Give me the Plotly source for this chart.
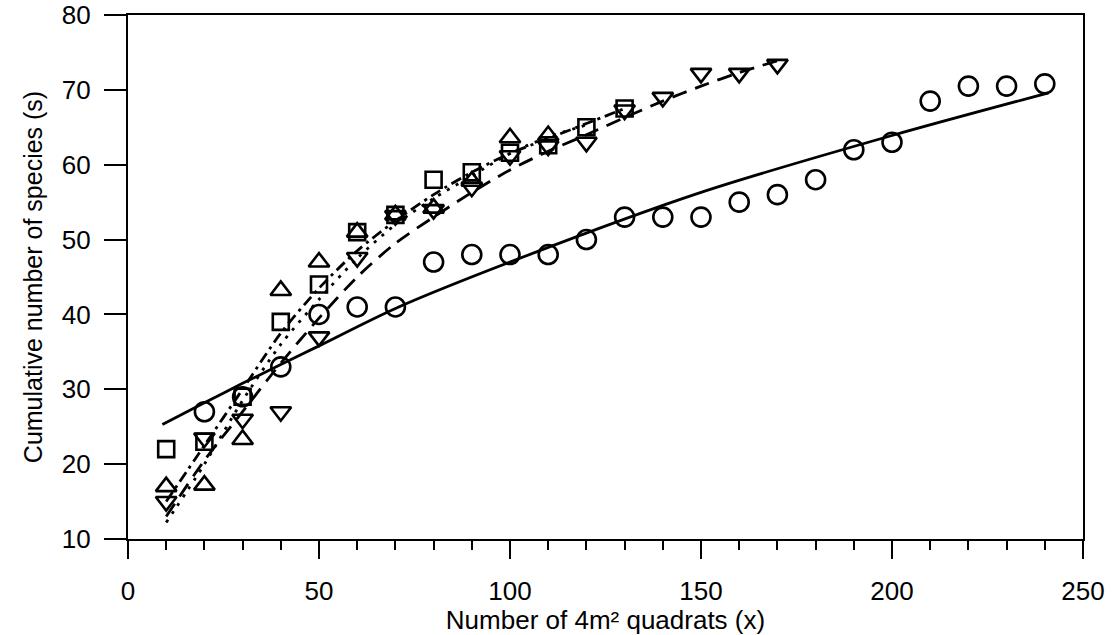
import plotly.graph_objects as go

# ---- observed data ----
circ_x = [20, 30, 40, 50, 60, 70, 80, 90, 100, 110, 120, 130, 140, 150, 160, 170, 180, 190, 200, 210, 220, 230, 240]
circ_y = [27, 29, 33, 40, 41, 41, 47, 48, 48, 48, 50, 53, 53, 53, 55, 56, 58, 62, 63, 68.5, 70.5, 70.5, 70.8]

sq_x = [10, 20, 30, 40, 50, 60, 70, 80, 90, 100, 110, 120, 130]
sq_y = [22, 23, 29, 39, 44, 51, 53.3, 58, 59, 61.6, 62.6, 65, 67.5]

tu_x = [10, 20, 30, 40, 50, 60, 70, 80, 90, 100, 110]
tu_y = [17, 17.2, 23.3, 43.2, 47, 51, 53.3, 54.2, 57.8, 63.6, 63.9]

td_x = [10, 20, 30, 40, 50, 60, 70, 80, 90, 100, 110, 120, 130, 140, 150, 160, 170]
td_y = [15, 23.5, 26, 27, 37, 47.6, 53.2, 54, 57, 61.2, 62.5, 63, 67.3, 69, 72.2, 72.2, 73.4]

# ---- fitted curves ----
fit_c_x = [9, 20, 30, 40, 50, 70, 100, 150, 200, 241]
fit_c_y = [25.3, 28.2, 30.8, 33.3, 35.8, 40.8, 47.0, 56.3, 63.9, 69.6]

fit_s_x = [10, 20, 30, 40, 50, 60, 70, 80, 90, 100, 110, 120, 130]
fit_s_y = [15, 22.5, 30, 37.5, 43.5, 48.5, 52.5, 56, 59, 61.5, 63.5, 65.5, 67.5]

fit_u_x = [10, 20, 30, 40, 50, 60, 70, 80, 90, 100, 110, 120]
fit_u_y = [12.2, 20, 28.5, 36, 42, 47.5, 52, 55.5, 58.5, 61.5, 63.7, 65.3]

fit_d_x = [10, 20, 30, 40, 50, 60, 70, 80, 90, 100, 110, 120, 130, 140, 150, 160, 172]
fit_d_y = [13, 20.5, 27, 33.5, 39.5, 45, 49.5, 53, 56.3, 59.3, 61.8, 64, 66.3, 68.5, 70.5, 72.3, 74.2]

x_ticks = [0, 50, 100, 150, 200, 250]
y_ticks = [10, 20, 30, 40, 50, 60, 70, 80]

FONT = "Liberation Sans, Arial, Helvetica, sans-serif"
fig = go.Figure()

def line(x, y, dash):
    fig.add_trace(go.Scatter(x=x, y=y, mode="lines", line=dict(color="black", width=2.8, dash=dash, shape="spline", smoothing=0.8),
                             showlegend=False, hoverinfo="skip"))

line(fit_c_x, fit_c_y, "solid")
line(fit_s_x, fit_s_y, "11px,5px,3px,5px")
line(fit_u_x, fit_u_y, "3px,7px")
line(fit_d_x, fit_d_y, "15px,9px")

def pts(x, y, sym, size):
    fig.add_trace(go.Scatter(x=x, y=y, mode="markers",
                             marker=dict(symbol=sym, size=size, color="black", line=dict(color="black", width=2.6)),
                             showlegend=False))

pts(circ_x, circ_y, "circle-open", 19)
pts(sq_x, sq_y, "square-open", 16)
pts(tu_x, tu_y, "triangle-up-open", 18)
pts(td_x, td_y, "triangle-down-open", 18)

fig.update_layout(
    width=1116, height=635,
    margin=dict(l=128, r=33, t=15, b=96, autoexpand=False),
    paper_bgcolor="white", plot_bgcolor="white",
    font=dict(family=FONT, color="black"),
    showlegend=False,
)
fig.update_xaxes(
    range=[0, 250], tickvals=x_ticks, ticks="outside", ticklen=18, tickwidth=2.4, tickcolor="black",
    showline=True, linecolor="black", linewidth=2.4, mirror=True, showgrid=False, zeroline=False,
    tickfont=dict(size=26), ticklabelstandoff=10, automargin=False,
    minor=dict(dtick=10, ticks="outside", ticklen=9, tickwidth=2.2, tickcolor="black", showgrid=False),
    title=dict(text="Number of 4m² quadrats (x)", font=dict(size=26), standoff=2),
)
fig.update_yaxes(
    range=[10, 80], tickvals=y_ticks, ticks="outside", ticklen=22, tickwidth=2.4, tickcolor="black",
    showline=True, linecolor="black", linewidth=2.4, mirror=True, showgrid=False, zeroline=False,
    tickfont=dict(size=26), ticklabelstandoff=8, automargin=False,
    title=dict(text="Cumulative number of species (s)", font=dict(size=25), standoff=12),
)

fig.write_html("out.html")
